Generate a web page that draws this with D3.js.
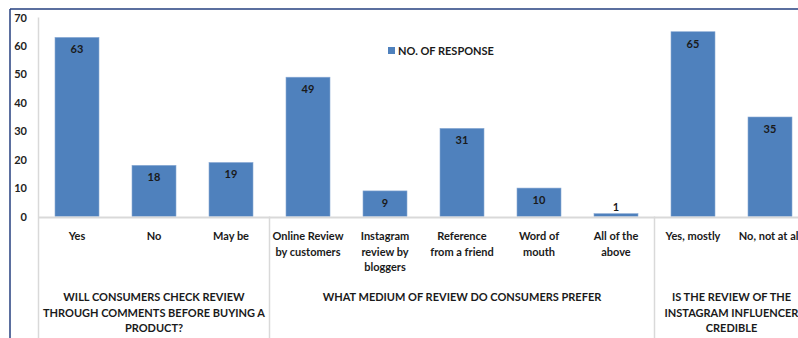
<!DOCTYPE html>
<html>
<head>
<meta charset="utf-8">
<script src="https://cdn.jsdelivr.net/npm/d3@7"></script>
<style>
  html, body { margin: 0; padding: 0; background: #fff; overflow: hidden; }
  svg { display: block; font-family: Lato, "Open Sans", sans-serif; font-weight: bold; }
</style>
</head>
<body>
<svg id="chart" width="798" height="338"></svg>
<script>
// Survey answers, one bar per answer option
const categories = [
  "Yes", "No", "May be",
  "Online Review by customers", "Instagram review by bloggers", "Reference from a friend", "Word of mouth", "All of the above",
  "Yes, mostly", "No, not at all"
];
const categoryLines = [
  ["Yes"], ["No"], ["May be"],
  ["Online Review", "by customers"], ["Instagram", "review by", "bloggers"], ["Reference", "from a friend"], ["Word of", "mouth"], ["All of the", "above"],
  ["Yes, mostly"], ["No, not at all"]
];
const responses = [63, 18, 19, 49, 9, 31, 10, 1, 65, 35];

// Question groups: how many answer options belong to each question
const groupNames = [
  ["WILL CONSUMERS CHECK REVIEW", "THROUGH COMMENTS BEFORE BUYING A", "PRODUCT?"],
  ["WHAT MEDIUM OF REVIEW DO CONSUMERS PREFER"],
  ["IS THE REVIEW OF THE", "INSTAGRAM INFLUENCER", "CREDIBLE"]
];
const groupSizes = [3, 5, 2];

const yTicks = [0, 10, 20, 30, 40, 50, 60, 70];
const seriesName = "NO. OF RESPONSE";

const barColor = "#4f81bd";
const gridColor = "#d9d9d9";
const frameColor = "#243f7f";

const svg = d3.select("#chart");

const plotLeft = 38.5, step = 77;
const x = d3.scaleBand()
  .domain(d3.range(categories.length))
  .range([plotLeft, plotLeft + step * categories.length])
  .paddingInner(33 / 77)
  .paddingOuter(33 / 77 / 2);

const y = d3.scaleLinear().domain([0, 70]).range([216.5, 17.5]);

// Outer chart frame (top and left edges in view)
svg.append("line").attr("x1", 10).attr("x2", 798).attr("y1", 9).attr("y2", 9)
  .attr("stroke", frameColor).attr("stroke-width", 1.5);
svg.append("line").attr("x1", 10).attr("x2", 10).attr("y1", 9).attr("y2", 338)
  .attr("stroke", frameColor).attr("stroke-width", 1.5);

// Value axis labels
const yAxis = d3.axisLeft(y).tickValues(yTicks).tickSize(0).tickPadding(0);
const yg = svg.append("g").attr("transform", "translate(27,0)").call(yAxis);
yg.select(".domain").remove();
yg.selectAll("text").attr("font-size", 11).attr("font-weight", "bold")
  .attr("fill", "#222").attr("font-family", "Lato, sans-serif");

// Vertical axis line running down through the label area
svg.append("line").attr("x1", plotLeft).attr("x2", plotLeft)
  .attr("y1", y(70)).attr("y2", 338).attr("stroke", gridColor).attr("stroke-width", 1.5);

// Bars
svg.append("g").selectAll("rect").data(responses).join("rect")
  .attr("x", (d, i) => x(i))
  .attr("width", x.bandwidth())
  .attr("y", d => y(d))
  .attr("height", d => y(0) - y(d))
  .attr("fill", barColor)
  .attr("stroke", "#8aaad4")
  .attr("stroke-width", 0.6);

// Category baseline
svg.append("line").attr("x1", plotLeft).attr("x2", 798)
  .attr("y1", y(0) + 1).attr("y2", y(0) + 1)
  .attr("stroke", gridColor).attr("stroke-width", 2);

// Value labels: inside the bar top, or above when the bar is too short
svg.append("g").selectAll("text").data(responses).join("text")
  .attr("x", (d, i) => x(i) + x.bandwidth() / 2)
  .attr("y", d => (y(0) - y(d) > 20) ? y(d) + 16 : y(d) - 3)
  .attr("text-anchor", "middle")
  .attr("font-size", 11)
  .attr("fill", "#1a1a1a")
  .text(d => d);

// Category labels (wrapped)
const catG = svg.append("g");
categoryLines.forEach((lines, i) => {
  const t = catG.append("text")
    .attr("x", x(i) + x.bandwidth() / 2)
    .attr("y", 240)
    .attr("text-anchor", "middle")
    .attr("font-size", 11)
    .attr("fill", "#1a1a1a");
  lines.forEach((ln, k) => {
    t.append("tspan").attr("x", x(i) + x.bandwidth() / 2).attr("dy", k === 0 ? 0 : 15.5).text(ln);
  });
});

// Group separators and question labels
let start = 0;
groupSizes.forEach((n, g) => {
  const x0 = x(start) - x.step() * x.paddingOuter();
  const x1 = x0 + n * x.step();
  if (g > 0) {
    svg.append("line").attr("x1", x0).attr("x2", x0)
      .attr("y1", y(0)).attr("y2", 338)
      .attr("stroke", gridColor).attr("stroke-width", 1.5);
  }
  const cx = (x0 + x1) / 2;
  const t = svg.append("text")
    .attr("x", cx).attr("y", 301)
    .attr("text-anchor", "middle")
    .attr("font-size", 11)
    .attr("fill", "#1a1a1a");
  groupNames[g].forEach((ln, k) => {
    t.append("tspan").attr("x", cx).attr("dy", k === 0 ? 0 : 15.5).text(ln);
  });
  start += n;
});

// Legend
const lg = svg.append("g").attr("transform", "translate(388,47)");
lg.append("rect").attr("width", 7).attr("height", 7).attr("fill", barColor);
lg.append("text").attr("x", 10).attr("y", 7.5).attr("font-size", 11)
  .attr("fill", "#1a1a1a").text(seriesName);
</script>
</body>
</html>
